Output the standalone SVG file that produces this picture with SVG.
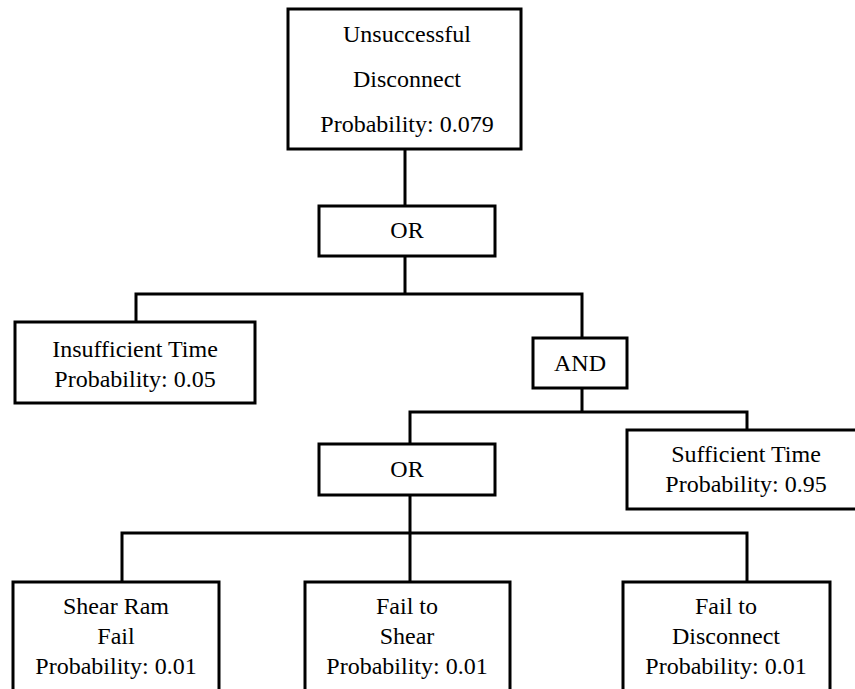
<svg xmlns="http://www.w3.org/2000/svg" width="855" height="689" viewBox="0 0 855 689">
<style>
.box{fill:#fff;stroke:#000;stroke-width:3}
.ln{fill:none;stroke:#000;stroke-width:3}
.t{font-family:'Liberation Serif','Times New Roman','DejaVu Serif',serif;font-size:24px;fill:#000;text-anchor:middle}
</style>
<rect width="855" height="689" fill="#fff"/>
<g id="connectors">
<path class="ln" d="M405 149V206"/>
<path class="ln" d="M405 256V294M136 322V294H582V338"/>
<path class="ln" d="M582 388V412M410 444V412H747V430"/>
<path class="ln" d="M410 495V533M122 582V533H747V582M410 533V582"/>
</g>
<g id="top" class="t"><rect class="box" x="288" y="9" width="233" height="140"/>
<text x="407" y="42">Unsuccessful</text><text x="407" y="87">Disconnect</text><text x="407" y="132">Probability: 0.079</text></g>
<g id="or1" class="t"><rect class="box" x="319" y="206" width="176" height="50"/><text x="407" y="238">OR</text></g>
<g id="insufficient" class="t"><rect class="box" x="15" y="322" width="240" height="81"/>
<text x="135" y="357">Insufficient Time</text><text x="135" y="387">Probability: 0.05</text></g>
<g id="and" class="t"><rect class="box" x="533" y="338" width="94" height="50"/><text x="580" y="371">AND</text></g>
<g id="or2" class="t"><rect class="box" x="319" y="444" width="176" height="51"/><text x="407" y="477">OR</text></g>
<g id="sufficient" class="t"><rect class="box" x="627" y="430" width="240" height="79"/>
<text x="746" y="462">Sufficient Time</text><text x="746" y="492">Probability: 0.95</text></g>
<g id="shearram" class="t"><rect class="box" x="13" y="582" width="206" height="120"/>
<text x="116" y="614">Shear Ram</text><text x="116" y="644">Fail</text><text x="116" y="674">Probability: 0.01</text></g>
<g id="failshear" class="t"><rect class="box" x="305" y="582" width="205" height="120"/>
<text x="407" y="614">Fail to</text><text x="407" y="644">Shear</text><text x="407" y="674">Probability: 0.01</text></g>
<g id="faildisconnect" class="t"><rect class="box" x="623" y="582" width="207" height="120"/>
<text x="726" y="614">Fail to</text><text x="726" y="644">Disconnect</text><text x="726" y="674">Probability: 0.01</text></g>
</svg>
